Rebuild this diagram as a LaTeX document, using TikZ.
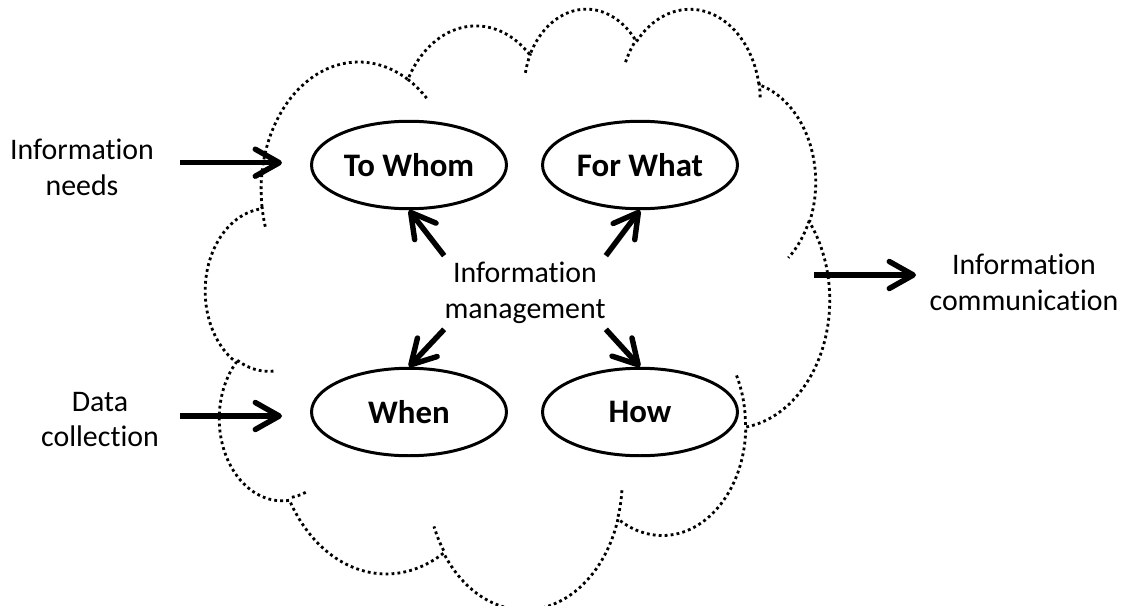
\documentclass[tikz,border=0pt]{standalone}
\usepackage{fontspec}
\setmainfont{Carlito}[Ligatures=NoCommon]
\usetikzlibrary{arrows.meta,shapes.geometric}

% scale of the cloud frame (cm per 1000 path units)
\newcommand\cloudsx{0.28884}
\newcommand\cloudsy{0.27808}

% elliptical arc in path units: #1 name, #2 wR, #3 hR, #4 start angle, #5 sweep (degrees, y down)
\newcommand\ooang[5]{%
  \pgfmathsetmacro\oaTs{atan2((#2)*sin(#4),(#3)*cos(#4))}%
  \pgfmathsetmacro\oaTe{atan2((#2)*sin((#4)+(#5)),(#3)*cos((#4)+(#5)))}%
  \pgfmathsetmacro\oaTe{\oaTs+mod(\oaTe-\oaTs+720,360)}%
  \pgfmathsetmacro\oaTmp{-\oaTs}\expandafter\global\expandafter\let\csname oa#1s\endcsname\oaTmp
  \pgfmathsetmacro\oaTmp{-\oaTe}\expandafter\global\expandafter\let\csname oa#1e\endcsname\oaTmp
  \pgfmathsetmacro\oaTmp{(#2)*\cloudsx/1000}\expandafter\global\expandafter\let\csname oa#1x\endcsname\oaTmp
  \pgfmathsetmacro\oaTmp{(#3)*\cloudsy/1000}\expandafter\global\expandafter\let\csname oa#1y\endcsname\oaTmp
}
\newcommand\oarc[1]{arc[start angle=\csname oa#1s\endcsname, end angle=\csname oa#1e\endcsname, x radius=\csname oa#1x\endcsname cm, y radius=\csname oa#1y\endcsname cm]}

% outline arcs
\ooang{A}{6753}{9190}{-190.48748}{123.78053}
\ooang{B}{5333}{7267}{-144.10238}{89.94523}
\ooang{C}{4365}{5945}{-145.80792}{99.72302}
\ooang{D}{4857}{6595}{-130.98607}{117.24173}
\ooang{E}{5333}{7273}{-78.70888}{109.02692}
\ooang{F}{6775}{9220}{-46.26725}{130.269}
\ooang{G}{5785}{7867}{0.62502}{114.03333}
\ooang{H}{6752}{9215}{22.4516}{115.17255}
\ooang{I}{7720}{10543}{66.24263}{75.71102}
\ooang{J}{4360}{5918}{-274.94208}{146.73557}
\ooang{K}{4345}{5945}{-246.8285}{152.51885}
% inner stubs
\ooang{a}{4345}{5945}{86.742}{26.4295}
\ooang{b}{4360}{5918}{73.61047}{11.44747}
\ooang{c}{6752}{9215}{137.62415}{14.0811}
\ooang{d}{6752}{9215}{6.45327}{15.99835}
\ooang{e}{5785}{7867}{-34.4}{35.025}
\ooang{f}{5333}{7273}{30.31803}{27.7515}
\ooang{g}{4857}{6595}{-13.74433}{14.86223}
\ooang{h}{4857}{6595}{-149.18145}{18.19537}
\ooang{i}{4365}{5945}{-163.49427}{17.68635}
\ooang{j}{6753}{9190}{-66.70695}{12.31935}
\ooang{k}{6753}{9190}{157.65435}{11.85817}

\tikzset{
  lbl/.style={font=\fontsize{17}{20.3}\selectfont, align=center, inner sep=0pt},
  oval/.style={ellipse, draw, line width=1.7pt, minimum width=3.9cm,
    minimum height=1.75cm, inner sep=0pt, font=\fontsize{18.7}{22}\selectfont\bfseries},
  arr/.style={line width=3.1pt, -{Straight Barb[length=4.8mm,width=5.4mm,round]}},
  cloudline/.style={line width=1.6pt, dash pattern=on 1.6pt off 1.8pt}
}

\begin{document}
\begin{tikzpicture}[x=0.02cm, y=0.02cm]
\useasboundingbox (0,0) rectangle (1125,-605);

% dotted cloud
\begin{scope}[shift={(205.7,-7.2)}, x=\cloudsx cm, y=-\cloudsy cm]
  \draw[cloudline] (3.9,14.37) \oarc{A} \oarc{B} \oarc{C} \oarc{D} \oarc{E}
    \oarc{F} \oarc{G} \oarc{H} \oarc{I} \oarc{J} \oarc{K} -- cycle;
  \draw[cloudline] (4.693,26.177) \oarc{a};
  \draw[cloudline] (6.928,34.899) \oarc{b};
  \draw[cloudline] (16.478,39.09) \oarc{c};
  \draw[cloudline] (28.827,34.751) \oarc{d};
  \draw[cloudline] (36.763,26.489) \oarc{e};
  \draw[cloudline] (41.798,15.354) \oarc{f};
  \draw[cloudline] (38.324,5.426) \oarc{g};
  \draw[cloudline] (29.078,3.952) \oarc{h};
  \draw[cloudline] (22.141,4.72) \oarc{i};
  \draw[cloudline] (14.0,5.192) \oarc{j};
  \draw[cloudline] (4.127,15.789) \oarc{k};
\end{scope}

% ovals
\node[oval] (towhom) at (409,-165) {To Whom};
\node[oval] (forwhat) at (640,-165) {For What};
\node[oval] (when) at (409,-412) {When};
\node[oval] (how) at (640,-412) {How};

% centre label
\node[lbl, minimum width=3.1cm, minimum height=1.46cm] (ctr) at (525,-292.5) {Information\\management};

% outside labels
\node[lbl] (needs) at (82,-167.5) {Information\\needs};
\node[lbl] (datac) at (100,-419.5) {Data\\collection};
\node[lbl] (comm) at (1024,-282.5) {Information\\communication};

% free ends of the outside arrows
\coordinate (needsA) at (180,-162.7);
\coordinate (needsB) at (282,-162.7);
\coordinate (dataA) at (180,-416);
\coordinate (dataB) at (282,-416);
\coordinate (commA) at (814,-275);
\coordinate (commB) at (916,-275);

% arrows
\draw[arr] (needsA) -- (needsB);
\draw[arr] (dataA) -- (dataB);
\draw[arr] (commA) -- (commB);
\draw[arr] (ctr.north west) -- (towhom.south);
\draw[arr] (ctr.north east) -- (forwhat.south);
\draw[arr] (ctr.south west) -- (when.north);
\draw[arr] (ctr.south east) -- (how.north);
\end{tikzpicture}
\end{document}
